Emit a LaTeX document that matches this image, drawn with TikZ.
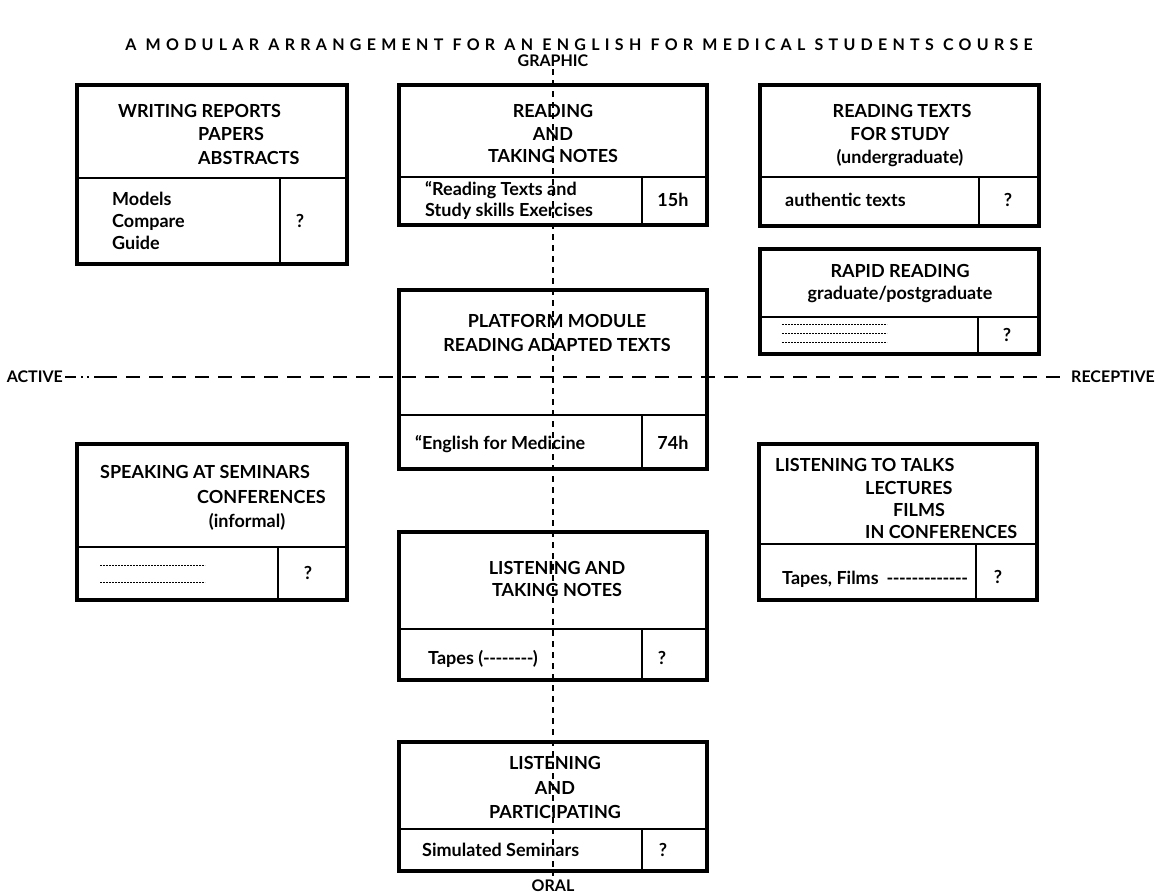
\documentclass[tikz,border=0pt]{standalone}
\usepackage{fontspec}
\setmainfont{Lato}
\newfontfamily\titlefont{Lato}[LetterSpace=33]
\newcommand\hy{\mbox{-}\kern-0.5pt}
\newcommand\hyn[1]{\foreach \i in {1,...,#1}{\hy}}
\begin{document}
\begin{tikzpicture}[x=1pt,y=-1pt,
  outer/.style={draw, line width=4pt, inner sep=0pt, anchor=north west},
  inner/.style={line width=1.7pt},
  txt/.style={inner sep=0pt, font=\fontsize{18}{21}\selectfont\bfseries},
  axtxt/.style={inner sep=0pt, font=\fontsize{16}{19}\selectfont\bfseries},
  lt/.style={txt, anchor=base west},
  ct/.style={txt, anchor=base},
  axis/.style={line width=1.4pt},
  fill1/.style={line width=0.9pt, dash pattern=on 2pt off 1pt}
]
\useasboundingbox (0,0) rectangle (1155,895);

% box helper: name, x1, y1, x2, y2, ydiv, xdiv
\newcommand\modbox[7]{%
  \node[outer, minimum width={(#4-#2)*1pt}, minimum height={(#5-#3)*1pt}] (#1) at (#2,#3) {};
  \draw[inner] (#1.west |- 0,#6) -- (#1.east |- 0,#6);
  \draw[inner] (#7,#6) -- (#1.south -| #7,0);
}

\node[inner sep=0pt, anchor=base, font=\titlefont\fontsize{16}{18}\selectfont\bfseries] (title) at (579,50) {A MODULAR ARRANGEMENT FOR AN ENGLISH FOR MEDICAL STUDENTS COURSE};

% boxes
\modbox{b1}{75}{83}{345}{262}{178}{280}
\modbox{b2}{397}{83}{705}{223}{177}{642}
\modbox{b3}{758}{83}{1037}{224}{177}{979}
\modbox{b4}{758}{247}{1037}{352}{317}{978}
\modbox{b5}{397}{288}{705}{467}{415}{642}
\modbox{b6}{75}{442}{345}{598}{547}{278}
\modbox{b7}{757}{442}{1035}{598}{544}{976}
\modbox{b8}{397}{530}{705}{678}{629}{642}
\modbox{b9}{397}{740}{705}{869}{829}{642}

% box 1
\node[lt] (t1a) at (118,117) {WRITING REPORTS};
\node[lt] (t1b) at (198,140) {PAPERS};
\node[lt] (t1c) at (198,164) {ABSTRACTS};
\node[lt] (t1d) at (112,205) {Models};
\node[lt] (t1e) at (112,227) {Compare};
\node[lt] (t1f) at (112,249) {Guide};
\node[ct] (t1g) at (300,227) {?};

% box 2
\node[ct] (t2a) at (553,117) {READING};
\node[ct] (t2b) at (553,140) {AND};
\node[ct] (t2c) at (553,162) {TAKING NOTES};
\node[lt] (t2d) at (425,195) {“Reading Texts and};
\node[lt] (t2e) at (425,216) {Study skills Exercises};
\node[ct] (t2f) at (673,206) {15h};

% box 3
\node[ct] (t3a) at (902,117) {READING TEXTS};
\node[ct] (t3b) at (900,140) {FOR STUDY};
\node[ct] (t3c) at (900,163) {(undergraduate)};
\node[lt] (t3d) at (785,206) {authentic texts};
\node[ct] (t3e) at (1008,206) {?};

% box 4
\node[ct] (t4a) at (900,277) {RAPID READING};
\node[ct] (t4b) at (900,299) {graduate/postgraduate};
\coordinate (d4a) at (782,324); \coordinate (d4b) at (887,324);
\coordinate (d4c) at (782,333); \coordinate (d4d) at (887,333);
\coordinate (d4e) at (782,342); \coordinate (d4f) at (887,342);
\draw[fill1] (d4a) -- (d4b);
\draw[fill1] (d4c) -- (d4d);
\draw[fill1] (d4e) -- (d4f);
\node[ct] (t4c) at (1007,341) {?};

% box 5
\node[ct] (t5a) at (557,327) {PLATFORM MODULE};
\node[ct] (t5b) at (557,351) {READING ADAPTED TEXTS};
\node[lt] (t5c) at (415,449) {“English for Medicine};
\node[ct] (t5d) at (673,449) {74h};

% box 6
\node[lt] (t6a) at (100,478) {SPEAKING AT SEMINARS};
\node[lt] (t6b) at (197,503) {CONFERENCES};
\node[ct] (t6c) at (247,527) {(informal)};
\coordinate (d6a) at (100,565); \coordinate (d6b) at (205,565);
\coordinate (d6c) at (100,582); \coordinate (d6d) at (205,582);
\draw[fill1] (d6a) -- (d6b);
\draw[fill1] (d6c) -- (d6d);
\node[ct] (t6d) at (308,579) {?};

% box 7
\node[lt] (t7a) at (775,471) {LISTENING TO TALKS};
\node[lt] (t7b) at (865,494) {LECTURES};
\node[lt] (t7c) at (893,516) {FILMS};
\node[lt] (t7d) at (865,538) {IN CONFERENCES};
\node[lt] (t7e) at (782,584) {Tapes, Films\hspace{8pt}\hyn{13}};
\node[ct] (t7f) at (998,583) {?};

% box 8
\node[ct] (t8a) at (557,574) {LISTENING AND};
\node[ct] (t8b) at (557,596) {TAKING NOTES};
\node[lt] (t8c) at (428,664) {Tapes (\hyn{8})};
\node[ct] (t8d) at (662,664) {?};

% box 9
\node[ct] (t9a) at (555,769) {LISTENING};
\node[ct] (t9b) at (555,794) {AND};
\node[ct] (t9c) at (555,818) {PARTICIPATING};
\node[lt] (t9d) at (422,856) {Simulated Seminars};
\node[ct] (t9e) at (663,856) {?};

% axes
\node[axtxt, anchor=base] (graphic) at (553,66) {GRAPHIC};
\node[axtxt, anchor=base] (oral) at (553,891) {ORAL};
\node[axtxt, anchor=east] (active) at (63,377) {ACTIVE};
\node[axtxt, anchor=west] (receptive) at (1071,377) {RECEPTIVE};
\coordinate (hbreak) at (103,377);
\draw[axis, dash pattern=on 6pt off 5pt] ([yshift=-3pt]graphic.south) -- ([yshift=3pt]oral.north);
\draw[axis, dash pattern=on 11pt off 5pt on 2pt off 4pt on 2pt off 5pt] ([xshift=2pt]active.east) -- (hbreak);
\draw[axis, dash pattern=on 14pt off 9pt] (hbreak) -- ([xshift=-5pt]receptive.west);
\end{tikzpicture}
\end{document}
